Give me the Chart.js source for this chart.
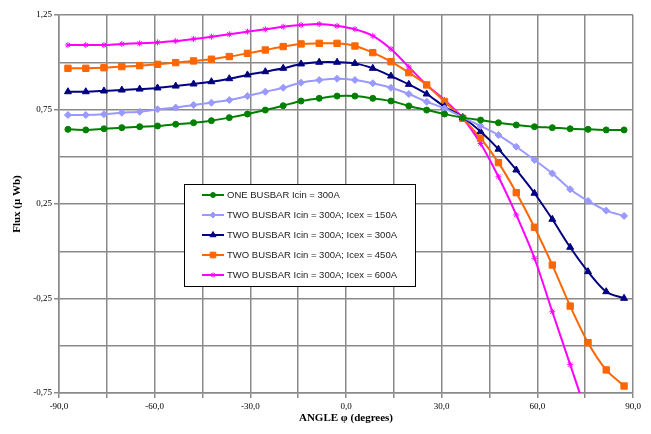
<!DOCTYPE html>
<html>
<head>
<meta charset="utf-8">
<script src="https://cdn.jsdelivr.net/npm/chart.js@4"></script>
<style>
  body { margin: 0; background: #fff; }
  #wrap { width: 651px; height: 434px; }
</style>
</head>
<body>
<div id="wrap"><canvas id="fluxChart" width="651" height="434"></canvas></div>
<script>
// Flux vs angle, busbar configurations
const angles = [-87.2, -81.6, -75.9, -70.3, -64.7, -59.1, -53.4, -47.8, -42.2, -36.6, -30.9, -25.3,
  -19.7, -14.1, -8.4, -2.8, 2.8, 8.4, 14.1, 19.7, 25.3, 30.9, 36.6, 42.2,
  47.8, 53.4, 59.1, 64.7, 70.3, 75.9, 81.6, 87.2];

const oneBusbar300 = [0.645, 0.642, 0.648, 0.654, 0.659, 0.663, 0.672, 0.680, 0.691, 0.707, 0.726, 0.747,
  0.770, 0.795, 0.809, 0.821, 0.821, 0.809, 0.795, 0.769, 0.747, 0.726, 0.707, 0.694,
  0.680, 0.668, 0.659, 0.654, 0.648, 0.645, 0.642, 0.642];
const twoBusbar150 = [0.721, 0.721, 0.725, 0.733, 0.738, 0.751, 0.760, 0.774, 0.786, 0.800, 0.821, 0.844,
  0.865, 0.892, 0.906, 0.913, 0.906, 0.889, 0.865, 0.832, 0.791, 0.756, 0.709, 0.663,
  0.615, 0.553, 0.483, 0.412, 0.328, 0.266, 0.215, 0.187];
const twoBusbar300 = [0.844, 0.844, 0.848, 0.853, 0.858, 0.864, 0.874, 0.885, 0.897, 0.913, 0.933, 0.950,
  0.968, 0.991, 1.000, 1.000, 0.994, 0.968, 0.927, 0.883, 0.832, 0.765, 0.709, 0.633,
  0.540, 0.430, 0.307, 0.169, 0.021, -0.108, -0.214, -0.249];
const twoBusbar450 = [0.968, 0.968, 0.971, 0.977, 0.982, 0.989, 0.998, 1.007, 1.016, 1.030, 1.047, 1.065,
  1.083, 1.097, 1.100, 1.100, 1.086, 1.051, 1.003, 0.945, 0.880, 0.791, 0.703, 0.598,
  0.469, 0.310, 0.127, -0.073, -0.290, -0.484, -0.628, -0.713];
const twoBusbar600 = [1.091, 1.091, 1.091, 1.097, 1.100, 1.105, 1.112, 1.123, 1.135, 1.148, 1.162, 1.174,
  1.188, 1.197, 1.202, 1.192, 1.175, 1.140, 1.070, 0.975, 0.880, 0.800, 0.705, 0.570,
  0.394, 0.192, -0.037, -0.320, -0.600, -0.880, null, null];

const seriesLabels = [
  "ONE BUSBAR Icin = 300A",
  "TWO BUSBAR Icin = 300A; Icex = 150A",
  "TWO BUSBAR Icin = 300A; Icex = 300A",
  "TWO BUSBAR Icin = 300A; Icex = 450A",
  "TWO BUSBAR Icin = 300A; Icex = 600A"
];

const xTickValues = [-90, -60, -30, 0, 30, 60, 90];
const xTickLabels = ["-90,0", "-60,0", "-30,0", "0,0", "30,0", "60,0", "90,0"];
const yTickValues = [-0.75, -0.25, 0.25, 0.75, 1.25];
const yTickLabels = ["-0,75", "-0,25", "0,25", "0,75", "1,25"];

function pickLabel(values, labels, v) {
  const i = values.findIndex(t => Math.abs(t - v) < 1e-6);
  return i >= 0 ? labels[i] : "";
}

function series(label, values, color, style, radius) {
  return {
    label: label,
    data: angles.map((a, i) => ({ x: a, y: values[i] })),
    borderColor: color,
    backgroundColor: color,
    pointBackgroundColor: color,
    pointBorderColor: color,
    pointStyle: style,
    pointRadius: radius,
    pointBorderWidth: 1,
    borderWidth: 2,
    tension: 0.3,
    spanGaps: false
  };
}

// legend box drawn inside the plot, like the original
const legendBox = {
  id: "legendBox",
  afterDatasetsDraw(chart) {
    const ctx = chart.ctx;
    ctx.save();
    ctx.fillStyle = "#fff";
    ctx.fillRect(184.5, 184.5, 231, 102);
    ctx.strokeStyle = "#000";
    ctx.lineWidth = 1;
    ctx.strokeRect(184.5, 184.5, 231, 102);
    ctx.font = "9.5px 'Liberation Sans', Arial, sans-serif";
    ctx.textBaseline = "middle";
    chart.data.datasets.forEach((ds, i) => {
      const y = 195 + i * 20;
      ctx.strokeStyle = ds.borderColor;
      ctx.fillStyle = ds.borderColor;
      ctx.lineWidth = 2;
      ctx.beginPath();
      ctx.moveTo(202, y);
      ctx.lineTo(224, y);
      ctx.stroke();
      ctx.lineWidth = 1;
      Chart.helpers.drawPoint(ctx, { pointStyle: ds.pointStyle, radius: ds.pointRadius - 0.5, rotation: 0, borderWidth: 1 }, 213, y);
      ctx.fillStyle = "#222";
      ctx.fillText(ds.label, 227, y + 0.5);
    });
    ctx.restore();
  }
};

const gridColor = "#8a8a8a";

new Chart(document.getElementById("fluxChart"), {
  type: "line",
  data: {
    datasets: [
      series(seriesLabels[0], oneBusbar300, "#008000", "circle", 3),
      series(seriesLabels[1], twoBusbar150, "#9999ff", "rectRot", 3.5),
      series(seriesLabels[2], twoBusbar300, "#000080", "triangle", 4),
      series(seriesLabels[3], twoBusbar450, "#ff6600", "rect", 4.5),
      series(seriesLabels[4], twoBusbar600, "#ff00ff", "star", 3)
    ]
  },
  options: {
    responsive: false,
    animation: false,
    layout: { padding: { top: 15, right: 18, left: 0, bottom: 0 } },
    plugins: {
      legend: { display: false },
      tooltip: { enabled: false }
    },
    scales: {
      x: {
        type: "linear",
        min: -90,
        max: 90,
        afterFit: s => { s.height = 41; },
        ticks: {
          stepSize: 15,
          autoSkip: false,
          maxRotation: 0,
          padding: 3,
          color: "#000",
          font: { family: "'Liberation Serif', 'Times New Roman', serif", size: 9 },
          callback: v => pickLabel(xTickValues, xTickLabels, v)
        },
        grid: { color: gridColor, lineWidth: 1.5, tickLength: 5 },
        border: { color: gridColor, width: 1.5 },
        title: {
          display: true,
          text: "ANGLE φ (degrees)",
          color: "#000",
          padding: { top: 0, bottom: 9 },
          font: { family: "'Liberation Serif', 'Times New Roman', serif", size: 11, weight: "bold" }
        }
      },
      y: {
        min: -0.75,
        max: 1.25,
        afterFit: s => { s.width = 59; },
        ticks: {
          stepSize: 0.25,
          autoSkip: false,
          padding: 2,
          color: "#000",
          font: { family: "'Liberation Serif', 'Times New Roman', serif", size: 9 },
          callback: v => pickLabel(yTickValues, yTickLabels, v)
        },
        grid: {
          color: gridColor,
          lineWidth: 1.5,
          tickLength: 5,
          tickColor: c => (pickLabel(yTickValues, yTickLabels, c.tick ? c.tick.value : NaN) ? gridColor : "rgba(0,0,0,0)")
        },
        border: { color: gridColor, width: 1.5 },
        title: {
          display: true,
          text: "Flux (μ Wb)",
          color: "#000",
          padding: { top: 11, bottom: 0 },
          font: { family: "'Liberation Serif', 'Times New Roman', serif", size: 11, weight: "bold" }
        }
      }
    }
  },
  plugins: [legendBox]
});
</script>
</body>
</html>
